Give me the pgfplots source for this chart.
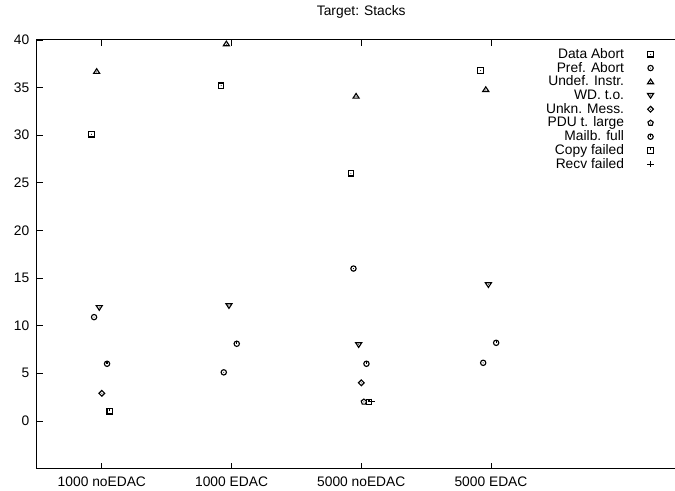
\documentclass[border=0pt]{standalone}
\usepackage{pgfplots}
\pgfplotsset{compat=1.18}
\usepackage{fontspec}
\setmainfont{Liberation Sans}
\usetikzlibrary{plotmarks}

\pgfdeclareplotmark{gsq}{%
  \pgfpathrectangle{\pgfqpoint{-\pgfplotmarksize}{-\pgfplotmarksize}}{\pgfqpoint{2\pgfplotmarksize}{2\pgfplotmarksize}}\pgfusepathqstroke
  \pgfpathcircle{\pgfpointorigin}{0.4pt}\pgfusepathqfill}
\pgfdeclareplotmark{gcirc}{%
  \pgfpathcircle{\pgfpointorigin}{\pgfplotmarksize}\pgfusepathqstroke
  \pgfpathcircle{\pgfpointorigin}{0.4pt}\pgfusepathqfill}
\pgfdeclareplotmark{gtri}{%
  \pgfpathmoveto{\pgfqpoint{0pt}{1.15\pgfplotmarksize}}
  \pgfpathlineto{\pgfqpoint{-1.3\pgfplotmarksize}{-0.85\pgfplotmarksize}}
  \pgfpathlineto{\pgfqpoint{1.3\pgfplotmarksize}{-0.85\pgfplotmarksize}}
  \pgfpathclose\pgfusepathqstroke
  \pgfpathcircle{\pgfqpoint{0pt}{-0.2\pgfplotmarksize}}{0.4pt}\pgfusepathqfill}
\pgfdeclareplotmark{gtrid}{%
  \pgfpathmoveto{\pgfqpoint{0pt}{-1.15\pgfplotmarksize}}
  \pgfpathlineto{\pgfqpoint{-1.3\pgfplotmarksize}{0.85\pgfplotmarksize}}
  \pgfpathlineto{\pgfqpoint{1.3\pgfplotmarksize}{0.85\pgfplotmarksize}}
  \pgfpathclose\pgfusepathqstroke
  \pgfpathcircle{\pgfqpoint{0pt}{0.2\pgfplotmarksize}}{0.4pt}\pgfusepathqfill}
\pgfdeclareplotmark{gdiam}{%
  \pgfpathmoveto{\pgfqpoint{0pt}{1.2\pgfplotmarksize}}
  \pgfpathlineto{\pgfqpoint{-1.2\pgfplotmarksize}{0pt}}
  \pgfpathlineto{\pgfqpoint{0pt}{-1.2\pgfplotmarksize}}
  \pgfpathlineto{\pgfqpoint{1.2\pgfplotmarksize}{0pt}}
  \pgfpathclose\pgfusepathqstroke
  \pgfpathcircle{\pgfpointorigin}{0.4pt}\pgfusepathqfill}
\pgfdeclareplotmark{gpent}{%
  \pgfpathmoveto{\pgfpointpolar{90}{1.1\pgfplotmarksize}}
  \pgfpathlineto{\pgfpointpolar{162}{1.1\pgfplotmarksize}}
  \pgfpathlineto{\pgfpointpolar{234}{1.1\pgfplotmarksize}}
  \pgfpathlineto{\pgfpointpolar{306}{1.1\pgfplotmarksize}}
  \pgfpathlineto{\pgfpointpolar{18}{1.1\pgfplotmarksize}}
  \pgfpathclose\pgfusepathqstroke
  \pgfpathcircle{\pgfpointorigin}{0.4pt}\pgfusepathqfill}
\pgfdeclareplotmark{gmail}{%
  \pgfpathcircle{\pgfpointorigin}{\pgfplotmarksize}\pgfusepathqstroke
  \pgfpathmoveto{\pgfpointorigin}\pgfpathlineto{\pgfqpoint{0pt}{\pgfplotmarksize}}\pgfusepathqstroke}
\pgfdeclareplotmark{gcopy}{%
  \pgfpathrectangle{\pgfqpoint{-\pgfplotmarksize}{-\pgfplotmarksize}}{\pgfqpoint{2\pgfplotmarksize}{2\pgfplotmarksize}}\pgfusepathqstroke
  \pgfpathmoveto{\pgfpointorigin}\pgfpathlineto{\pgfqpoint{0pt}{\pgfplotmarksize}}\pgfusepathqstroke}

\begin{document}
\fontsize{10.35}{12}\selectfont
\begin{tikzpicture}
\begin{axis}[
  scale only axis,
  width=486.4pt, height=321.4pt,
  xmin=0.5, xmax=5.5, ymin=-5, ymax=40,
  xtick={1,2,3,4},
  xticklabels={1000 noEDAC,1000 EDAC,5000 noEDAC,5000 EDAC},
  ytick={0,5,...,40},
  tick align=inside,
  major tick length=4.5pt,
  axis line style={line width=0.75pt},
  every tick/.style={black, line width=0.6pt},
  /pgf/number format/assume math mode=true,
  tick label style={font=\fontsize{10.35}{12}\selectfont},
  yticklabel style={xshift=-2.2pt},
  xticklabel style={yshift=-2.8pt},
  title={Target: Stacks},
  title style={font=\fontsize{10.35}{12}\selectfont, anchor=base, yshift=12pt},
  only marks,
  every axis plot/.append style={black, line width=0.85pt, mark size=2.0pt},
  legend plot pos=right,
  legend cell align=right,
  legend style={draw=none, fill=none, at={(rel axis cs:0.9576,0.989)}, anchor=north east,
    font=\fontsize{10.35}{12}\selectfont, column sep=17pt, row sep=0.3pt,
    nodes={inner sep=0.5pt, text height=7.5pt, text depth=1.5pt}},
]
\addplot[mark=gsq] coordinates {(0.92,30.1) (1.92,35.2) (2.92,26.0) (3.92,36.8)};
\addlegendentry{Data Abort}
\addplot[mark=gcirc] coordinates {(0.94,10.9) (1.94,5.1) (2.94,16.0) (3.94,6.1)};
\addlegendentry{Pref. Abort}
\addplot[mark=gtri, mark size=1.75pt] coordinates {(0.96,36.7) (1.96,39.6) (2.96,34.1) (3.96,34.8)};
\addlegendentry{Undef. Instr.}
\addplot[mark=gtrid, mark size=1.75pt] coordinates {(0.98,11.9) (1.98,12.1) (2.98,8.0) (3.98,14.3)};
\addlegendentry{WD. t.o.}
\addplot[mark=gdiam, mark size=1.8pt] coordinates {(1.00,2.9) (3.00,4.0)};
\addlegendentry{Unkn. Mess.}
\addplot[mark=gpent, mark size=1.9pt] coordinates {(3.02,2.0)};
\addlegendentry{PDU t. large}
\addplot[mark=gmail] coordinates {(1.04,6.0) (2.04,8.1) (3.04,6.0) (4.04,8.2)};
\addlegendentry{Mailb. full}
\addplot[mark=gcopy] coordinates {(1.06,1.0) (3.06,2.0)};
\addlegendentry{Copy failed}
\addplot[mark=+, mark size=2.4pt] coordinates {(3.08,2.0)};
\addlegendentry{Recv failed}
\coordinate (SW) at (rel axis cs:0,0);
\coordinate (NW) at (rel axis cs:0,1);
\end{axis}
\pgfresetboundingbox
\path ([xshift=-27.75pt,yshift=-16.8pt]SW) rectangle ([xshift=478.5pt,yshift=30pt]NW);
\end{tikzpicture}
\end{document}
